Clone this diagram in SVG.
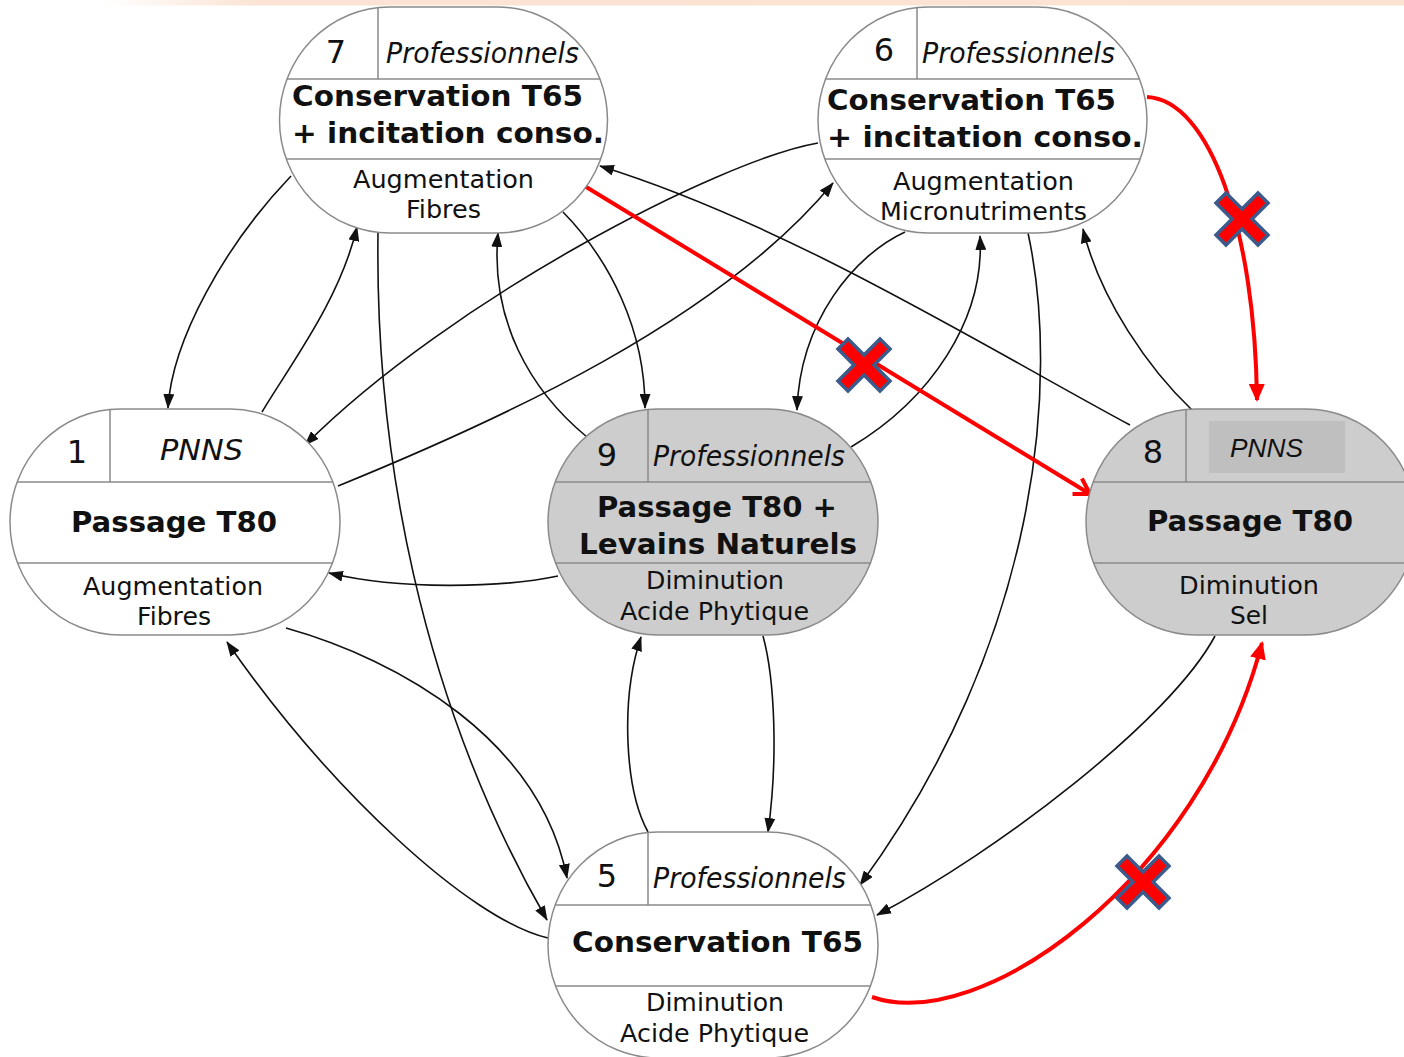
<svg xmlns="http://www.w3.org/2000/svg" width="1404" height="1057" viewBox="0 0 1404 1057">
<style>
text{font-family:"DejaVu Sans","Liberation Sans",sans-serif;fill:#111}
.num{font-size:32px;text-anchor:middle}
.role{font-size:28px;font-style:italic}
.title{font-size:29px;font-weight:bold}
.sub{font-size:25px}
.shape{stroke:#8a8a8a;stroke-width:1.5}
.w{fill:#fff}
.g{fill:#cdcdcd}
.div{stroke:#8a8a8a;stroke-width:1.5;fill:none}
.c{fill:none;stroke:#111;stroke-width:1.6;marker-end:url(#ah)}
.r{fill:none;stroke:#ff0000;stroke-width:4}
.x{fill:#ff0000;stroke:#3b5b8c;stroke-width:3.5;stroke-linejoin:miter}
</style>
<defs>
<linearGradient id="band" x1="100" y1="0" x2="1404" y2="0" gradientUnits="userSpaceOnUse">
<stop offset="0" stop-color="#fbe4d5" stop-opacity="0"/>
<stop offset="0.12" stop-color="#fbe4d5" stop-opacity="1"/>
<stop offset="1" stop-color="#fbe3d3"/>
</linearGradient>
<marker id="ah" markerUnits="userSpaceOnUse" markerWidth="15" markerHeight="11" refX="14" refY="5.5" orient="auto">
<path d="M0,0 L15,5.5 L0,11 z" fill="#111"/>
</marker>
<marker id="rah" markerUnits="userSpaceOnUse" markerWidth="18" markerHeight="16" refX="16" refY="8" orient="auto">
<path d="M0,0 L18,8 L0,16 z" fill="#ff0000"/>
</marker>
<marker id="rv" markerUnits="userSpaceOnUse" markerWidth="20" markerHeight="22" refX="17" refY="11" orient="auto">
<path d="M2,2 L17,11 L2,20" fill="none" stroke="#ff0000" stroke-width="4"/>
</marker>
<clipPath id="k7"><rect x="279.5" y="7" width="328" height="226" rx="110" ry="113"/></clipPath>
<clipPath id="k6"><rect x="818" y="7" width="329" height="226" rx="110" ry="113"/></clipPath>
<clipPath id="k1"><rect x="10" y="409" width="330" height="226" rx="110" ry="113"/></clipPath>
<clipPath id="k9"><rect x="548" y="409" width="330" height="226" rx="110" ry="113"/></clipPath>
<clipPath id="k8"><rect x="1086" y="409" width="330" height="226" rx="110" ry="113"/></clipPath>
<clipPath id="k5"><rect x="548" y="832" width="330" height="226" rx="110" ry="113"/></clipPath>
<polygon id="xm" points="-26,-16 -16,-26 0,-10 16,-26 26,-16 10,0 26,16 16,26 0,10 -16,26 -26,16 -10,0"/>
</defs>

<rect x="0" y="0" width="1404" height="5.5" fill="url(#band)"/>

<g id="connectors">
<path class="c" d="M291,176 C225,245 172,340 168,408"/>
<path class="c" d="M262,412 C290,365 340,300 357,227"/>
<path class="c" d="M378,233 C375,450 420,700 547,920"/>
<path class="c" d="M818,143 C720,160 450,300 305,445"/>
<path class="c" d="M338,486 C500,420 720,320 833,183"/>
<path class="c" d="M587,437 C530,390 490,320 498,233"/>
<path class="c" d="M563,212 C610,260 645,330 645,408"/>
<path class="c" d="M1130,425 C990,350 790,225 600,166"/>
<path class="c" d="M905,232 C855,255 800,320 797,410"/>
<path class="c" d="M851,447 C930,400 985,320 980,236"/>
<path class="c" d="M1028,233 C1060,380 1040,640 860,885"/>
<path class="c" d="M1192,410 C1150,370 1100,300 1083,229"/>
<path class="c" d="M558,576 C500,588 400,590 329,573"/>
<path class="c" d="M286,628 C400,660 540,740 567,878"/>
<path class="c" d="M548,938 C470,920 330,790 227,642"/>
<path class="c" d="M648,832 C625,790 620,700 641,637"/>
<path class="c" d="M763,636 C775,680 778,760 768,832"/>
<path class="c" d="M1215,636 C1170,720 1000,850 877,915"/>
<path class="r" d="M578,182 L1090,494" marker-end="url(#rv)"/>
<path class="r" d="M1147,97 C1210,100 1255,230 1257,400" marker-end="url(#rah)"/>
<path class="r" d="M872,997 C980,1035 1200,880 1262,643" marker-end="url(#rah)"/>
<use href="#xm" class="x" x="864" y="365"/>
<use href="#xm" class="x" x="1242" y="219"/>
<use href="#xm" class="x" x="1143" y="882"/>
</g>

<g id="node7">
<rect class="shape w" x="279.5" y="7" width="328" height="226" rx="110" ry="113"/>
<g clip-path="url(#k7)" class="div"><path d="M378,7 V79 M270,79 H620 M270,159 H620"/></g>
<text class="num" x="336" y="63">7</text>
<text class="role" x="386" y="63" textLength="193" lengthAdjust="spacingAndGlyphs">Professionnels</text>
<text class="title" x="292" y="106" textLength="291" lengthAdjust="spacingAndGlyphs">Conservation T65</text>
<text class="title" x="292" y="143" textLength="312" lengthAdjust="spacingAndGlyphs">+ incitation conso.</text>
<text class="sub" x="353" y="188" textLength="181" lengthAdjust="spacingAndGlyphs">Augmentation</text>
<text class="sub" x="406" y="218" textLength="75" lengthAdjust="spacingAndGlyphs">Fibres</text>
</g>

<g id="node6">
<rect class="shape w" x="818" y="7" width="329" height="226" rx="110" ry="113"/>
<g clip-path="url(#k6)" class="div"><path d="M917,7 V79 M810,79 H1160 M810,159 H1160"/></g>
<text class="num" x="884" y="61">6</text>
<text class="role" x="922" y="63" textLength="193" lengthAdjust="spacingAndGlyphs">Professionnels</text>
<text class="title" x="827" y="110" textLength="289" lengthAdjust="spacingAndGlyphs">Conservation T65</text>
<text class="title" x="827" y="147" textLength="316" lengthAdjust="spacingAndGlyphs">+ incitation conso.</text>
<text class="sub" x="893" y="190" textLength="181" lengthAdjust="spacingAndGlyphs">Augmentation</text>
<text class="sub" x="880" y="220" textLength="207" lengthAdjust="spacingAndGlyphs">Micronutriments</text>
</g>

<g id="node1">
<rect class="shape w" x="10" y="409" width="330" height="226" rx="110" ry="113"/>
<g clip-path="url(#k1)" class="div"><path d="M110,409 V482 M0,482 H350 M0,563 H350"/></g>
<text class="num" x="77" y="463">1</text>
<text class="role" x="160" y="460" textLength="83" lengthAdjust="spacingAndGlyphs">PNNS</text>
<text class="title" x="71" y="532" textLength="206" lengthAdjust="spacingAndGlyphs">Passage T80</text>
<text class="sub" x="83" y="595" textLength="180" lengthAdjust="spacingAndGlyphs">Augmentation</text>
<text class="sub" x="137" y="625" textLength="74" lengthAdjust="spacingAndGlyphs">Fibres</text>
</g>

<g id="node9">
<rect class="shape g" x="548" y="409" width="330" height="226" rx="110" ry="113"/>
<g clip-path="url(#k9)" class="div"><path d="M648,409 V482 M540,482 H890 M540,563 H890"/></g>
<text class="num" x="607" y="466">9</text>
<text class="role" x="653" y="466" textLength="192" lengthAdjust="spacingAndGlyphs">Professionnels</text>
<text class="title" x="597" y="517" textLength="240" lengthAdjust="spacingAndGlyphs">Passage T80 +</text>
<text class="title" x="579" y="554" textLength="278" lengthAdjust="spacingAndGlyphs">Levains Naturels</text>
<text class="sub" x="646" y="589" textLength="138" lengthAdjust="spacingAndGlyphs">Diminution</text>
<text class="sub" x="620" y="620" textLength="189" lengthAdjust="spacingAndGlyphs">Acide Phytique</text>
</g>

<g id="node8">
<rect class="shape g" x="1086" y="409" width="330" height="226" rx="110" ry="113"/>
<g clip-path="url(#k8)" class="div"><path d="M1186,409 V482 M1078,482 H1420 M1078,563 H1420"/></g>
<rect x="1209" y="421" width="136" height="52" fill="#bfbfbf"/>
<text class="num" x="1153" y="463">8</text>
<text x="1230" y="457" style="font-family:'Liberation Sans',Arial,sans-serif;font-style:italic;font-size:26px" textLength="73" lengthAdjust="spacingAndGlyphs">PNNS</text>
<text class="title" x="1147" y="531" textLength="206" lengthAdjust="spacingAndGlyphs">Passage T80</text>
<text class="sub" x="1179" y="594" textLength="140" lengthAdjust="spacingAndGlyphs">Diminution</text>
<text class="sub" x="1230" y="624" textLength="38" lengthAdjust="spacingAndGlyphs">Sel</text>
</g>

<g id="node5">
<rect class="shape w" x="548" y="832" width="330" height="226" rx="110" ry="113"/>
<g clip-path="url(#k5)" class="div"><path d="M648,832 V905 M540,905 H890 M540,986 H890"/></g>
<text class="num" x="607" y="887">5</text>
<text class="role" x="653" y="888" textLength="193" lengthAdjust="spacingAndGlyphs">Professionnels</text>
<text class="title" x="572" y="952" textLength="291" lengthAdjust="spacingAndGlyphs">Conservation T65</text>
<text class="sub" x="646" y="1011" textLength="138" lengthAdjust="spacingAndGlyphs">Diminution</text>
<text class="sub" x="620" y="1042" textLength="189" lengthAdjust="spacingAndGlyphs">Acide Phytique</text>
</g>
</svg>
